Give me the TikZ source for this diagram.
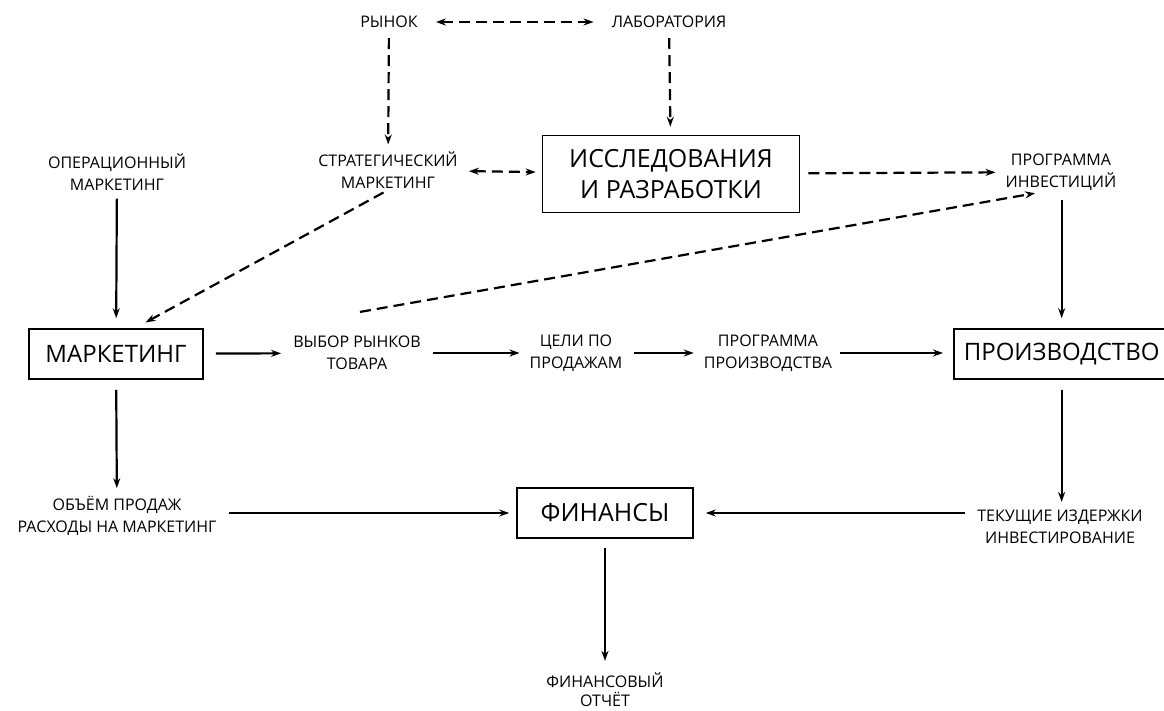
\documentclass[tikz,border=0pt]{standalone}
\usepackage{fontspec}
\setmainfont{Open Sans}
\usetikzlibrary{positioning,arrows.meta,calc}
\tikzset{
  >={Stealth[length=10pt,width=7pt]},
  lbl/.style={align=center,inner sep=2pt,font=\fontsize{16}{22}\selectfont},
  bigbox/.style={draw,line width=1.6pt,align=center,inner xsep=10pt,minimum height=50pt,font=\fontsize{25}{31}\selectfont},
  solid arrow/.style={->,line width=2.2pt},
  dash arrow/.style={->,line width=2.2pt,dash pattern=on 11pt off 6pt},
}
\begin{document}
\begin{tikzpicture}[x=1pt,y=-1pt]
\useasboundingbox (0,0) rectangle (1164,711);

% top row
\node[lbl] (rynok) at (389,22) {РЫНОК};
\node[lbl] (lab) at (669,22) {ЛАБОРАТОРИЯ};

% second row
\node[lbl] (oper) at (117,172) {ОПЕРАЦИОННЫЙ\\МАРКЕТИНГ};
\node[lbl] (strat) at (388,170) {СТРАТЕГИЧЕСКИЙ\\МАРКЕТИНГ};
\node[bigbox,minimum width=257pt,minimum height=77pt] (ird) at (671,174) {ИССЛЕДОВАНИЯ\\И РАЗРАБОТКИ};
\node[lbl] (proginv) at (1061,172) {ПРОГРАММА\\ИНВЕСТИЦИЙ};

% middle row
\node[bigbox,minimum width=174pt,font=\fontsize{24}{30}\selectfont] (mark) at (116,354) {МАРКЕТИНГ};
\node[lbl] (vybor) at (357,353) {ВЫБОР РЫНКОВ\\ТОВАРА};
\node[lbl] (celi) at (576,353) {ЦЕЛИ ПО\\ПРОДАЖАМ};
\node[lbl] (progpr) at (768,353) {ПРОГРАММА\\ПРОИЗВОДСТВА};
\node[bigbox,anchor=west,font=\fontsize{24}{30}\selectfont] (proizv) at (953,354) {ПРОИЗВОДСТВО};

% bottom rows
\node[lbl] (obem) at (117,516) {ОБЪЁМ ПРОДАЖ\\РАСХОДЫ НА МАРКЕТИНГ};
\node[bigbox,minimum width=176pt] (fin) at (605,513) {ФИНАНСЫ};
\node[lbl] (tek) at (1060,527) {ТЕКУЩИЕ ИЗДЕРЖКИ\\ИНВЕСТИРОВАНИЕ};
\node[lbl,font=\fontsize{16}{19}\selectfont] (fotchet) at (605,690) {ФИНАНСОВЫЙ\\ОТЧЁТ};

% dashed links
\draw[dash arrow,<->,shorten <=16pt,shorten >=16pt] (rynok) -- (lab);
\draw[dash arrow,shorten <=8pt,shorten >=5pt] (rynok) -- (strat);
\draw[dash arrow,shorten <=8pt,shorten >=8pt] (lab) -- (ird);
\draw[dash arrow,<->,shorten <=9pt,shorten >=6pt] (strat) -- (ird);
\draw[dash arrow,shorten <=8pt,shorten >=8pt] (ird) -- (proginv);
\draw[dash arrow,shorten <=4pt,shorten >=12pt] ([xshift=-1pt]strat.south) -- ([xshift=19pt]mark.north);
\draw[dash arrow,shorten <=0pt,shorten >=4pt] ([xshift=3pt,yshift=22pt]vybor.north) -- ([xshift=-22pt]proginv.south);

% solid links
\draw[solid arrow,shorten <=6pt,shorten >=10pt] (oper) -- (mark);
\draw[solid arrow,shorten <=8pt,shorten >=10pt] (proginv.south -| proizv) -- (proizv.north);
\draw[solid arrow,shorten <=12pt,shorten >=10pt] (mark) -- (vybor);
\draw[solid arrow,shorten <=10pt,shorten >=8pt] (vybor) -- (celi);
\draw[solid arrow,shorten <=10pt,shorten >=8pt] (celi) -- (progpr);
\draw[solid arrow,shorten <=6pt,shorten >=10pt] (progpr) -- (progpr -| proizv.west);
\draw[solid arrow,shorten <=10pt,shorten >=6pt] (proizv.south) -- (tek.north -| proizv);
\draw[solid arrow,shorten <=10pt,shorten >=6pt] (mark) -- (obem);
\draw[solid arrow,shorten <=10pt,shorten >=7pt] (obem.east |- fin.west) -- (fin.west);
\draw[solid arrow,shorten <=10pt,shorten >=12pt] (tek.west |- fin.east) -- (fin.east);
\draw[solid arrow,shorten <=9pt,shorten >=10pt] (fin.south) -- (fin.south |- fotchet.north);

\end{tikzpicture}
\end{document}
